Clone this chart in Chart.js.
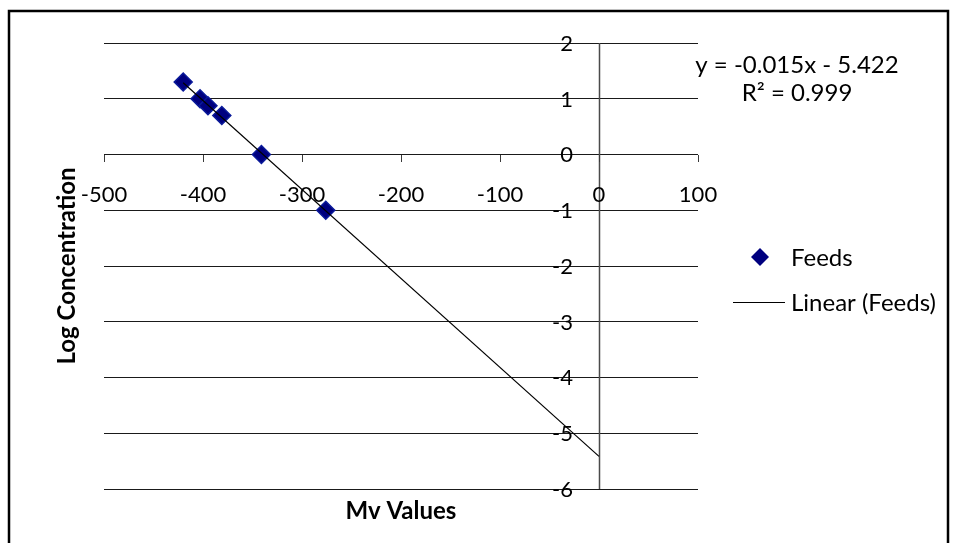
<!DOCTYPE html>
<html>
<head>
<meta charset="utf-8">
<script src="https://cdn.jsdelivr.net/npm/chart.js@4/dist/chart.umd.min.js"></script>
<style>
  html, body { margin: 0; padding: 0; background: #fff; }
  #wrap { width: 957px; height: 543px; position: relative; }
  canvas { display: block; }
</style>
</head>
<body>
<div id="wrap"><canvas id="c" width="957" height="543"></canvas></div>
<script>
// Electrode readings (mV) and log10 of the feed concentrations
const mvValues = [-420, -403, -395, -381, -341, -276];
const logConcentration = [1.301, 1.0, 0.875, 0.699, 0, -1];

// Axis tick labels
const xTickLabels = ['-500', '-400', '-300', '-200', '-100', '0', '100'];
const yTickLabels = ['2', '1', '0', '-1', '-2', '-3', '-4', '-5', '-6'];

const seriesName = 'Feeds';
const trendName = 'Linear (Feeds)';
const equationText = 'y = -0.015x - 5.422';
const r2Text = 'R² = 0.999';
const xTitle = 'Mv Values';
const yTitle = 'Log Concentration';

const FONT = 'Lato, "Open Sans", sans-serif';
const NAVY = '#00007f';

// Least-squares linear trendline, extended forward to mV = 0
function linearFit(xs, ys) {
  const n = xs.length;
  const mx = xs.reduce((a, b) => a + b, 0) / n;
  const my = ys.reduce((a, b) => a + b, 0) / n;
  let sxy = 0, sxx = 0;
  for (let i = 0; i < n; i++) {
    sxy += (xs[i] - mx) * (ys[i] - my);
    sxx += (xs[i] - mx) * (xs[i] - mx);
  }
  const slope = sxy / sxx;
  return { slope, intercept: my - slope * mx };
}
const fit = linearFit(mvValues, logConcentration);
const trendX = [Math.min(...mvValues), 0];
const trendPoints = trendX.map(x => ({ x, y: fit.slope * x + fit.intercept }));
const feedPoints = mvValues.map((x, i) => ({ x, y: logConcentration[i] }));

function textAtDigitCenter(ctx, text, x, cy, size) {
  ctx.textBaseline = 'alphabetic';
  ctx.fillText(text, x, cy + size * 0.36);
}

const decorations = {
  id: 'decorations',
  beforeDraw(chart) {
    const ctx = chart.ctx;
    ctx.save();
    ctx.fillStyle = '#fff';
    ctx.fillRect(0, 0, chart.width, chart.height);
    // outer frame
    ctx.strokeStyle = '#000';
    ctx.lineWidth = 2.5;
    ctx.strokeRect(9, 11, 939, 540);
    ctx.restore();
  },
  beforeDatasetsDraw(chart) {
    const { ctx, chartArea: a, scales: { x, y } } = chart;
    const x0 = x.getPixelForValue(0);
    const y0 = y.getPixelForValue(0);
    ctx.save();
    // vertical axis crossing at mV = 0
    ctx.strokeStyle = '#4a4a4a';
    ctx.lineWidth = 1.5;
    ctx.beginPath();
    ctx.moveTo(Math.round(x0) + 0.5, a.top);
    ctx.lineTo(Math.round(x0) + 0.5, a.bottom);
    ctx.stroke();
    // horizontal axis with tick marks at y = 0
    ctx.strokeStyle = '#3a3a3a';
    ctx.lineWidth = 1;
    ctx.beginPath();
    xTickLabels.forEach(t => {
      const px = Math.round(x.getPixelForValue(Number(t))) + 0.5;
      ctx.moveTo(px, Math.round(y0));
      ctx.lineTo(px, Math.round(y0) + 7);
    });
    ctx.stroke();
    ctx.restore();
  },
  afterDraw(chart) {
    const { ctx, scales: { x, y } } = chart;
    const x0 = x.getPixelForValue(0);
    const y0 = y.getPixelForValue(0);
    ctx.save();
    ctx.fillStyle = '#000';

    // tick labels
    const tickSize = 22;
    ctx.font = tickSize + 'px ' + FONT;
    ctx.textAlign = 'center';
    xTickLabels.forEach(t => {
      textAtDigitCenter(ctx, t, x.getPixelForValue(Number(t)), y0 + 40, tickSize);
    });
    ctx.textAlign = 'right';
    yTickLabels.forEach(t => {
      textAtDigitCenter(ctx, t, x0 - 26, y.getPixelForValue(Number(t)), tickSize);
    });

    // trendline equation
    const eqSize = 24;
    ctx.font = eqSize + 'px ' + FONT;
    ctx.textAlign = 'center';
    textAtDigitCenter(ctx, equationText, 797, 64, eqSize);
    textAtDigitCenter(ctx, r2Text, 797, 92, eqSize);

    // axis titles
    const titleSize = 24;
    ctx.font = 'bold ' + titleSize + 'px ' + FONT;
    ctx.textAlign = 'center';
    textAtDigitCenter(ctx, xTitle, 401, 510, titleSize);
    ctx.save();
    ctx.translate(66, 266);
    ctx.rotate(-Math.PI / 2);
    textAtDigitCenter(ctx, yTitle, 0, 0, titleSize);
    ctx.restore();

    // legend
    const legSize = 24;
    ctx.font = legSize + 'px ' + FONT;
    ctx.textAlign = 'left';
    ctx.fillStyle = NAVY;
    ctx.beginPath();
    ctx.moveTo(760, 248); ctx.lineTo(769, 257); ctx.lineTo(760, 266); ctx.lineTo(751, 257);
    ctx.closePath();
    ctx.fill();
    ctx.fillStyle = '#000';
    textAtDigitCenter(ctx, seriesName, 791, 257, legSize);
    ctx.strokeStyle = '#000';
    ctx.lineWidth = 1;
    ctx.beginPath();
    ctx.moveTo(733, 302.5); ctx.lineTo(785, 302.5);
    ctx.stroke();
    textAtDigitCenter(ctx, trendName, 791, 302, legSize);
    ctx.restore();
  }
};

new Chart(document.getElementById('c'), {
  type: 'scatter',
  data: {
    datasets: [
      {
        type: 'line',
        label: trendName,
        data: trendPoints,
        borderColor: '#000',
        borderWidth: 1.2,
        pointRadius: 0,
        fill: false,
        order: 0
      },
      {
        label: seriesName,
        data: feedPoints,
        pointStyle: 'rectRot',
        pointRadius: 9,
        pointBackgroundColor: NAVY,
        pointBorderColor: '#0a1a9a',
        pointBorderWidth: 1.5,
        order: 1
      }
    ]
  },
  options: {
    responsive: false,
    animation: false,
    devicePixelRatio: 1,
    layout: { padding: { left: 104, right: 259, top: 43, bottom: 54 } },
    plugins: { legend: { display: false }, tooltip: { enabled: false } },
    scales: {
      x: {
        type: 'linear',
        min: -500, max: 100,
        ticks: { display: false, stepSize: 100 },
        grid: { display: false, drawTicks: false },
        border: { display: false },
        afterFit: s => { s.height = 0; }
      },
      y: {
        type: 'linear',
        min: -6, max: 2,
        ticks: { display: false, stepSize: 1 },
        grid: { display: true, color: '#1a1a1a', lineWidth: 1, drawTicks: false },
        border: { display: false },
        afterFit: s => { s.width = 0; }
      }
    }
  },
  plugins: [decorations]
});
</script>
</body>
</html>
